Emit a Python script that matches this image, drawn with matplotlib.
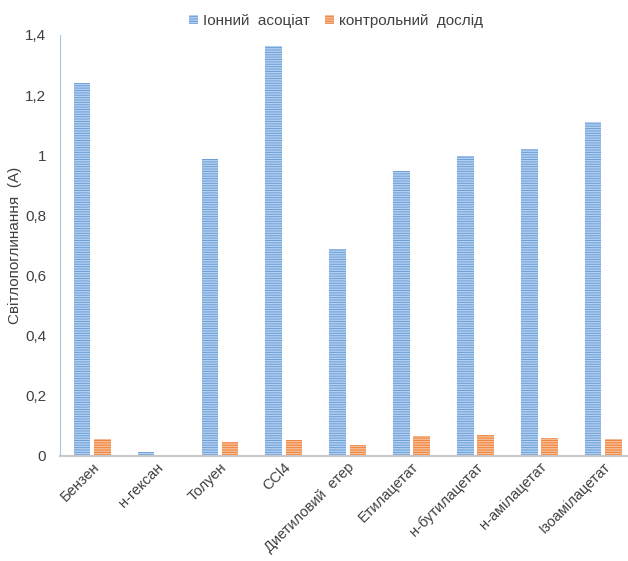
import numpy as np
import matplotlib
matplotlib.use("Agg")
import matplotlib.pyplot as plt
from matplotlib.ticker import FuncFormatter

plt.rcParams['font.family'] = ['Liberation Sans', 'DejaVu Sans']
plt.rcParams['hatch.linewidth'] = 1.0

categories = ["Бензен", "н-гексан", "Толуен", "CCl4", "Диетиловий  етер",
              "Етилацетат", "н-бутилацетат", "н-амілацетат", "Ізоамілацетат"]
ion_assoc = [1.240, 0.013, 0.989, 1.363, 0.689, 0.946, 0.996, 1.021, 1.109]
control = [0.055, 0.0, 0.046, 0.051, 0.036, 0.065, 0.070, 0.060, 0.057]
series_names = ["Іонний  асоціат", "контрольний  дослід"]

fig = plt.figure(figsize=(6.28, 5.61), dpi=100)
ax = fig.add_axes([60 / 628, 105.3 / 561, 575 / 628, 420.7 / 561])

x = np.arange(len(categories))
w = 0.26
ax.bar(x - 0.155, ion_assoc, w, color="#6a9fd9", edgecolor="#b5d0ef",
       linewidth=0, hatch="-------", label=series_names[0])
ax.bar(x + 0.163, control, w, color="#ee8340", edgecolor="#f7bd93",
       linewidth=0, hatch="-------", label=series_names[1])

ax.set_xlim(-0.5, len(categories) - 0.5)
ax.set_ylim(0, 1.4)
ax.set_yticks(np.arange(0, 1.41, 0.2))
ax.yaxis.set_major_formatter(FuncFormatter(
    lambda v, p: ("%g" % round(v, 1)).replace(".", ",")))
ax.set_xticks(x)
ax.set_xticklabels(categories, rotation=45, ha="right", rotation_mode="anchor")
ax.tick_params(length=0, labelsize=11, colors="#404040", pad=10)
ax.tick_params(axis="x", pad=3, labelsize=10.5)

for s in ["top", "right"]:
    ax.spines[s].set_visible(False)
ax.spines["left"].set_color("#a9c6e8")
ax.spines["bottom"].set_color("#c8c8c8")
ax.spines["bottom"].set_linewidth(1.5)

ax.set_ylabel("Світлопоглинання  (А)", fontsize=11, color="#404040", labelpad=2)

fig.legend(loc="upper center", bbox_to_anchor=(0.535, 1.0), ncol=2, frameon=False,
           fontsize=11, handlelength=0.6, handleheight=0.6, handletextpad=0.3,
           columnspacing=1.0, labelcolor="#404040")

fig.savefig("out.png", dpi=100)
